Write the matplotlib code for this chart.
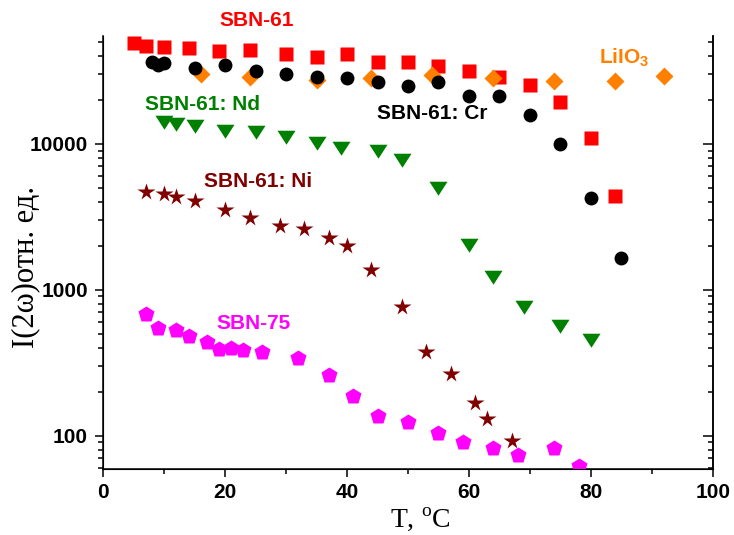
import matplotlib
matplotlib.use("Agg")
import matplotlib.pyplot as plt
from matplotlib.ticker import MultipleLocator, LogLocator, NullFormatter, FixedFormatter, FixedLocator

plt.rcParams["mathtext.fontset"] = "custom"
plt.rcParams["mathtext.rm"] = "Liberation Serif"
plt.rcParams["mathtext.bf"] = "Liberation Sans:bold"

# SBN-61 (red squares)
t_sbn61 = [5, 7, 10, 14, 19, 24, 30, 35, 40, 45, 50, 55, 60, 65, 70, 75, 80, 84]
i_sbn61 = [48900, 47100, 46400, 45200, 43400, 44000, 41200, 39600, 41300,
           36600, 36300, 34200, 31800, 28600, 25400, 19300, 11000, 4420]

# SBN-61: Cr (black circles)
t_cr = [8, 9, 10, 15, 20, 25, 30, 35, 40, 45, 50, 55, 60, 65, 70, 75, 80, 85]
i_cr = [36400, 34800, 35700, 33300, 34800, 31800, 30200, 28900, 28400,
        26700, 25000, 26500, 21400, 21400, 15800, 10000, 4250, 1650]

# LiIO3 (orange diamonds)
t_lio = [16, 24, 35, 44, 54, 64, 74, 84, 92]
i_lio = [30200, 28900, 27400, 28400, 29700, 28200, 27000, 27000, 29400]

# SBN-61: Nd (green triangles)
t_nd = [10, 12, 15, 20, 25, 30, 35, 39, 45, 49, 55, 60, 64, 69, 75, 80]
i_nd = [14200, 13600, 13300, 12300, 12000, 11200, 10200, 9350, 9000, 7770,
        4970, 2030, 1230, 762, 567, 455]

# SBN-61: Ni (dark red stars)
t_ni = [7, 10, 12, 15, 20, 24, 29, 33, 37, 40, 44, 49, 53, 57, 61, 63, 67]
i_ni = [4670, 4550, 4290, 4090, 3530, 3100, 2750, 2610, 2260, 2000, 1360,
        762, 374, 266, 166, 129, 92]

# SBN-75 (magenta pentagons)
t_75 = [7, 9, 12, 14, 17, 19, 21, 23, 26, 32, 37, 41, 45, 50, 55, 59, 64,
        68, 74, 78]
i_75 = [685, 547, 532, 479, 436, 393, 399, 388, 372, 341, 259, 188, 137,
        124, 104, 90.5, 82.4, 73, 82.4, 61.6]

x_ticks = [0, 20, 40, 60, 80, 100]
y_ticks = [100, 1000, 10000]

fig = plt.figure(figsize=(7.34, 5.35), dpi=100)
ax = fig.add_axes([0.1407, 0.1234, 0.8303, 0.8099])

# wide, flat down-pointing triangle like the original
tri = [(-1, 0.75), (1, 0.75), (0, -0.8), (-1, 0.75)]

ax.plot(t_sbn61, i_sbn61, "s", color="#ff0000", ms=9.5, mec="none", zorder=3)
ax.plot(t_lio, i_lio, "D", color="#ff8000", ms=9, mec="none", zorder=4)
ax.plot(t_cr, i_cr, "o", color="black", ms=10, mec="none", zorder=5)
ax.plot(t_nd, i_nd, marker=tri, ls="none", color="#008000", ms=13, mec="none",
        zorder=3)
ax.plot(t_ni, i_ni, "*", color="#800000", ms=13, mec="none", zorder=3)
ax.plot(t_75, i_75, "p", color="#ff00ff", ms=12, mec="none", zorder=3)

ax.set_yscale("log")
ax.set_xlim(0, 100)
ax.set_ylim(59, 55200)

# axes look: no top spine, ticks out on the left/bottom, in on the right
ax.spines["top"].set_visible(False)
for s in ["left", "right", "bottom"]:
    ax.spines[s].set_linewidth(1.1)

ax.xaxis.set_major_locator(FixedLocator(x_ticks))
ax.xaxis.set_minor_locator(MultipleLocator(10))
ax.yaxis.set_major_locator(FixedLocator(y_ticks))
ax.yaxis.set_major_formatter(FixedFormatter([str(v) for v in y_ticks]))
ax.yaxis.set_minor_locator(LogLocator(base=10, subs=range(2, 10)))
ax.yaxis.set_minor_formatter(NullFormatter())

ax.tick_params(axis="x", which="major", direction="out", length=6, width=1.1,
               top=False, pad=4)
ax.tick_params(axis="x", which="minor", direction="out", length=3.5, width=1.1,
               top=False)
ax.tick_params(axis="y", which="major", direction="out", length=6, width=1.1,
               right=False, pad=5)
ax.tick_params(axis="y", which="minor", direction="out", length=3.5, width=1.1,
               right=False)
ax.tick_params(labelsize=15)

# inward ticks on the right spine via a twin axis
ax_r = ax.twinx()
ax_r.set_yscale("log")
ax_r.set_ylim(ax.get_ylim())
ax_r.spines["top"].set_visible(False)
ax_r.spines["right"].set_linewidth(1.1)
ax_r.yaxis.set_major_locator(FixedLocator(y_ticks))
ax_r.yaxis.set_minor_locator(LogLocator(base=10, subs=range(2, 10)))
ax_r.yaxis.set_major_formatter(NullFormatter())
ax_r.yaxis.set_minor_formatter(NullFormatter())
ax_r.tick_params(axis="y", which="major", direction="in", length=7, width=1.1)
ax_r.tick_params(axis="y", which="minor", direction="in", length=3.5, width=1.1)

for lab in ax.get_xticklabels() + ax.get_yticklabels():
    lab.set_family("Liberation Sans")
    lab.set_fontweight("bold")

ax.set_xlabel("T, $^{\\mathrm{o}}$C", family="Liberation Serif", fontsize=20)
ax.xaxis.set_label_coords(0.52, -0.085)
ax.set_ylabel("I(2\u03c9)отн. ед.", family="Liberation Serif", fontsize=22)
ax.yaxis.set_label_coords(-0.104, 0.466)

lab_kw = dict(family="Liberation Sans", fontweight="bold", fontsize=15,
              va="baseline", clip_on=False)
ax.text(19.0, 64300, "SBN-61", color="#ff0000", ha="left", **lab_kw)
ax.text(81.4, 35300, r"$\mathbf{LiIO_3}$", color="#ff8000", ha="left", **lab_kw)
ax.text(6.8, 17100, "SBN-61: Nd", color="#008000", ha="left", **lab_kw)
ax.text(63.1, 14760, "SBN-61: Cr", color="black", ha="right", **lab_kw)
ax.text(16.5, 5100, "SBN-61: Ni", color="#800000", ha="left", **lab_kw)
ax.text(18.5, 538, "SBN-75", color="#ff00ff", ha="left", **lab_kw)

fig.savefig("out.png", dpi=100)
